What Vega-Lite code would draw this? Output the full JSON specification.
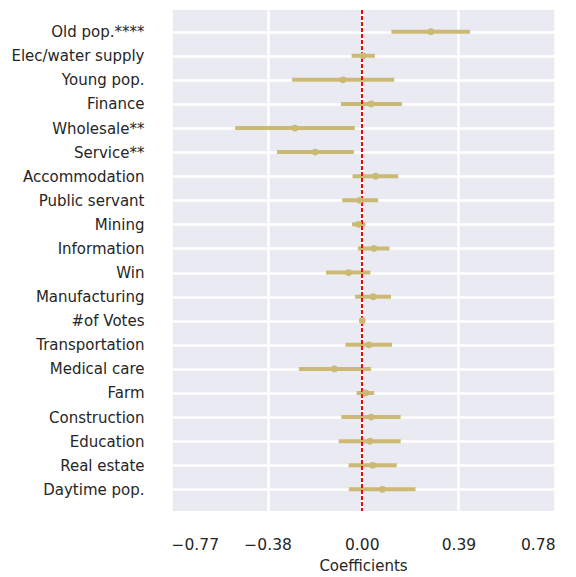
{
  "$schema": "https://vega.github.io/schema/vega-lite/v6.json",
  "autosize": {"type": "none"},
  "padding": {"left": 171, "top": 10, "right": 21, "bottom": 66},
  "width": 384,
  "height": 501,
  "background": "white",
  "config": {
    "view": {"fill": "#EAEAF2", "stroke": null},
    "font": "DejaVu Sans",
    "axis": {"gridColor": "white", "gridWidth": 2.5, "gridOpacity": 1, "domain": false, "ticks": false, "labelColor": "#262626", "titleColor": "#262626", "labelFont": "DejaVu Sans", "titleFont": "DejaVu Sans"}
  },
  "data": {
    "values": [
      {"var": "Old pop.****", "coef": 0.279, "lo": 0.120, "hi": 0.437},
      {"var": "Elec/water supply", "coef": 0.006, "lo": -0.041, "hi": 0.053},
      {"var": "Young pop.", "coef": -0.076, "lo": -0.281, "hi": 0.131},
      {"var": "Finance", "coef": 0.038, "lo": -0.084, "hi": 0.162},
      {"var": "Wholesale**", "coef": -0.270, "lo": -0.511, "hi": -0.028},
      {"var": "Service**", "coef": -0.188, "lo": -0.342, "hi": -0.032},
      {"var": "Accommodation", "coef": 0.056, "lo": -0.037, "hi": 0.147},
      {"var": "Public servant", "coef": -0.008, "lo": -0.079, "hi": 0.066},
      {"var": "Mining", "coef": -0.013, "lo": -0.039, "hi": 0.015},
      {"var": "Information", "coef": 0.049, "lo": -0.016, "hi": 0.112},
      {"var": "Win", "coef": -0.053, "lo": -0.144, "hi": 0.035},
      {"var": "Manufacturing", "coef": 0.046, "lo": -0.027, "hi": 0.118},
      {"var": "#of Votes", "coef": 0.002, "lo": -0.004, "hi": 0.008},
      {"var": "Transportation", "coef": 0.029, "lo": -0.066, "hi": 0.122},
      {"var": "Medical care", "coef": -0.110, "lo": -0.254, "hi": 0.038},
      {"var": "Farm", "coef": 0.015, "lo": -0.021, "hi": 0.050},
      {"var": "Construction", "coef": 0.038, "lo": -0.082, "hi": 0.157},
      {"var": "Education", "coef": 0.033, "lo": -0.093, "hi": 0.157},
      {"var": "Real estate", "coef": 0.044, "lo": -0.053, "hi": 0.141},
      {"var": "Daytime pop.", "coef": 0.084, "lo": -0.052, "hi": 0.217}
    ]
  },
  "encoding": {
    "y": {
      "field": "var", "type": "nominal", "sort": null,
      "scale": {"type": "point", "padding": 0.9},
      "axis": {"title": null, "labelFontSize": 15, "labelPadding": 27, "grid": true}
    }
  },
  "layer": [
    {
      "mark": {"type": "rule", "color": "#CCB974", "strokeWidth": 4, "strokeCap": "butt"},
      "encoding": {
        "x": {
          "field": "lo", "type": "quantitative",
          "scale": {"domain": [-0.77, 0.78], "nice": false, "zero": false},
          "axis": {
            "title": "Coefficients", "titleFontSize": 15, "titleFontWeight": "normal", "titlePadding": 6,
            "values": [-0.77, -0.38, 0, 0.39, 0.78],
            "labelExpr": "replace(format(datum.value, '.2f'), '-', '\u2212')",
            "labelFontSize": 15.5, "labelPadding": 26, "grid": true
          }
        },
        "x2": {"field": "hi"}
      }
    },
    {
      "mark": {"type": "rule", "color": "#FF0000", "strokeWidth": 1.5, "strokeDash": [4, 2]},
      "encoding": {"x": {"datum": 0, "type": "quantitative"}, "y": null}
    },
    {
      "mark": {"type": "circle", "color": "#CCB974", "opacity": 1, "size": 45},
      "encoding": {"x": {"field": "coef", "type": "quantitative"}}
    }
  ]
}
